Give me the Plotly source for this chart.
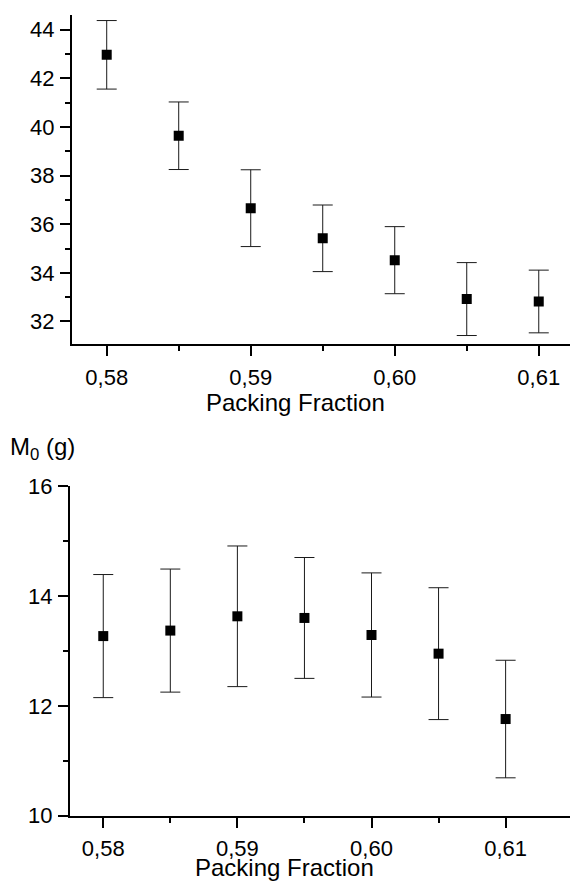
import plotly.graph_objects as go

# Packing fraction of each sample
packing_fraction = [0.580, 0.585, 0.590, 0.595, 0.600, 0.605, 0.610]

# Upper panel: measured quantity with its standard deviation
upper_values = [42.97, 39.64, 36.66, 35.42, 34.52, 32.92, 32.82]
upper_errors = [1.41, 1.39, 1.58, 1.37, 1.38, 1.50, 1.29]

# Lower panel: M0 (g) with its standard deviation
m0_values = [13.27, 13.37, 13.63, 13.60, 13.29, 12.95, 11.76]
m0_errors = [1.12, 1.12, 1.28, 1.10, 1.13, 1.20, 1.07]

# Axis ticks and labels
x_tick_vals = [0.58, 0.59, 0.60, 0.61]
x_tick_text = ["0,58", "0,59", "0,60", "0,61"]
upper_y_ticks = [32, 34, 36, 38, 40, 42, 44]
lower_y_ticks = [10, 12, 14, 16]

x_title = "Packing Fraction"
m0_title = "M<sub>0</sub> (g)"

W, H = 570, 896
FONT = "Liberation Sans, Arial, sans-serif"
TICK_SIZE = 22
TITLE_SIZE = 24


def px_x(x):
    return x / W


def px_y(y):
    return 1 - y / H


fig = go.Figure()

marker = dict(symbol="square", size=10, color="black")


def err(vals):
    return dict(type="data", array=vals, visible=True, color="#1a1a1a",
                thickness=1, width=10)


fig.add_trace(go.Scatter(x=packing_fraction, y=upper_values, mode="markers",
                         marker=marker, error_y=err(upper_errors),
                         xaxis="x", yaxis="y", showlegend=False))
fig.add_trace(go.Scatter(x=packing_fraction, y=m0_values, mode="markers",
                         marker=marker, error_y=err(m0_errors),
                         xaxis="x2", yaxis="y2", showlegend=False))

axis_common = dict(
    showline=True, linecolor="black", linewidth=2, mirror=False,
    ticks="outside", ticklen=10, tickwidth=2, tickcolor="black",
    showgrid=False, zeroline=False,
    tickfont=dict(family=FONT, size=TICK_SIZE, color="black"),
)

x_minor = dict(ticks="outside", ticklen=5, tickwidth=2,
               tickcolor="black", dtick=0.005, tick0=0.58)

fig.update_layout(
    width=W, height=H,
    margin=dict(l=0, r=0, t=0, b=0),
    paper_bgcolor="white", plot_bgcolor="white",
    xaxis=dict(domain=[px_x(72), 1.0], anchor="y",
               range=[0.57759, 0.61217],
               tickmode="array", tickvals=x_tick_vals, ticktext=x_tick_text,
               minor=x_minor, ticklabelstandoff=2,
               **axis_common),
    yaxis=dict(domain=[px_y(341.7), px_y(3)], anchor="x",
               range=[31.064, 44.612],
               tickmode="array", tickvals=upper_y_ticks,
               ticktext=[str(v) for v in upper_y_ticks],
               minor=dict(ticks="outside", ticklen=5, tickwidth=2,
                          tickcolor="black", dtick=1, tick0=32),
               ticklabelstandoff=1,
               **axis_common),
    xaxis2=dict(domain=[px_x(70), 1.0], anchor="y2",
                range=[0.57752, 0.6148],
                tickmode="array", tickvals=x_tick_vals, ticktext=x_tick_text,
                minor=x_minor, ticklabelstandoff=2,
                **axis_common),
    yaxis2=dict(domain=[px_y(826.8), px_y(487.7)], anchor="x2",
                range=[10, 16],
                tickmode="array", tickvals=lower_y_ticks,
                ticktext=[str(v) for v in lower_y_ticks],
                minor=dict(ticks="outside", ticklen=5, tickwidth=2,
                           tickcolor="black", dtick=1, tick0=10),
                ticklabelstandoff=1,
                **axis_common),
)

title_font = dict(family=FONT, size=TITLE_SIZE, color="black")
fig.add_annotation(text=x_title, xref="paper", yref="paper",
                   x=px_x(296), y=px_y(402), xanchor="center", yanchor="middle",
                   showarrow=False, font=title_font)
fig.add_annotation(text=x_title, xref="paper", yref="paper",
                   x=px_x(284), y=px_y(880), xanchor="center", yanchor="middle",
                   showarrow=False, font=title_font)
fig.add_annotation(text=m0_title, xref="paper", yref="paper",
                   x=px_x(8), y=px_y(449), xanchor="left", yanchor="middle",
                   showarrow=False, font=title_font)

fig.write_html("out.html")
